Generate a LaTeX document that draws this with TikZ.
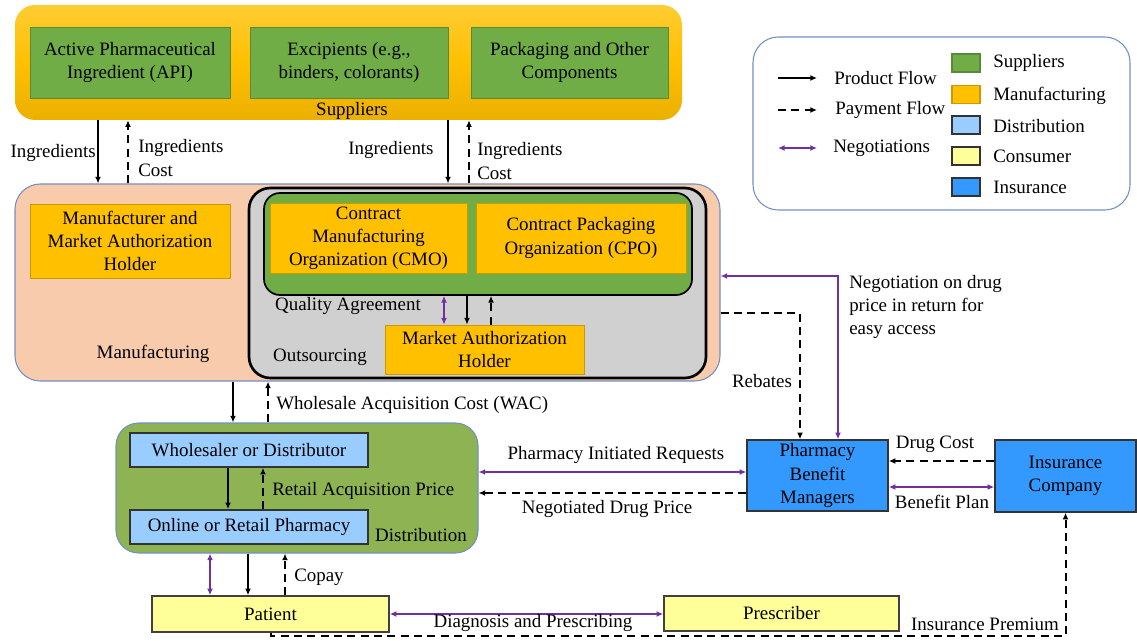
\documentclass[tikz,border=0pt]{standalone}
\usepackage{fontspec}
\setmainfont{Liberation Serif}
\usetikzlibrary{arrows.meta}
\newdimen\px
\px=0.75pt
\definecolor{supgreen}{HTML}{70AD47}
\definecolor{mfgorange}{HTML}{FFC000}
\definecolor{suptop}{HTML}{FFCC33}
\definecolor{supbot}{HTML}{EBB000}
\definecolor{peach}{HTML}{F8CBAD}
\definecolor{outgray}{HTML}{D0D0D0}
\definecolor{distgreen}{HTML}{8DB353}
\definecolor{distblue}{HTML}{99CCFF}
\definecolor{consyellow}{HTML}{FFFF99}
\definecolor{insblue}{HTML}{3399FF}
\definecolor{negpurple}{HTML}{7030A0}
\definecolor{frameblue}{HTML}{7290C4}

\tikzset{
  every node/.style={font=\fontsize{14.2}{17.3}\selectfont},
  sz/.style 2 args={minimum width=#1\px, minimum height=#2\px},
  box/.style={draw, rectangle, inner sep=0pt, align=center},
  lbl/.style={inner sep=0pt},
  supbox/.style={box, fill=supgreen, draw=supgreen!80!black, line width=0.6pt},
  mfgbox/.style={box, fill=mfgorange, draw=mfgorange!80!black, line width=0.6pt},
  distbox/.style={box, fill=distblue, draw=black!80, line width=1.2pt},
  consbox/.style={box, fill=consyellow, draw=black!75, line width=1.1pt},
  insbox/.style={box, fill=insblue, draw=black!80, line width=1.1pt},
  swatch/.style={box, sz={28}{18}, line width=0.9pt},
  tip/.tip={Latex[length=5pt,width=4.4pt]},
  prod/.style={line width=1.5pt, -tip},
  pay/.style={line width=1.5pt, dash pattern=on 6pt off 4pt, -tip},
  neg/.style={line width=1.5pt, draw=negpurple, tip-tip},
}

\begin{document}
\begin{tikzpicture}[x=0.75pt,y=-0.75pt]
\useasboundingbox (0,0) rectangle (1137,641);

% ---- Suppliers
\node[box, draw=none, sz={667}{115}, rounded corners=15pt,
      top color=suptop, bottom color=supbot, middle color=mfgorange] (sup) at (348.5,62.5) {};
\node[supbox, sz={200}{71}] (api) at (130,62.5) {Active Pharmaceutical\\Ingredient (API)};
\node[supbox, sz={198}{71}] (exc) at (349,62.5) {Excipients (e.g.,\\binders, colorants)};
\node[supbox, sz={197}{71}] (pkg) at (569.5,62.5) {Packaging and Other\\Components};
\node[lbl] (suplbl) at (352,111) {Suppliers};

% ---- Manufacturing
\node[box, sz={705}{197}, rounded corners=19pt, fill=peach, draw=frameblue, line width=0.8pt] (manu) at (367.5,282.5) {};
\node[mfgbox, sz={200}{74}] (mah1) at (130,241) {Manufacturer and\\Market Authorization\\Holder};
\node[lbl] (manulbl) at (153,354) {Manufacturing};
\node[box, sz={457}{190}, rounded corners=16pt, fill=outgray, line width=2pt] (outs) at (477.5,283) {};
\node[box, sz={428}{102}, rounded corners=12pt, fill=supgreen, line width=1.3pt] (cgrp) at (478,244) {};
\node[mfgbox, sz={197}{70}] (cmo) at (368.5,238) {Contract\\Manufacturing\\Organization (CMO)};
\node[mfgbox, sz={210}{70}] (cpo) at (581,238) {Contract Packaging\\Organization (CPO)};
\node[lbl] (qalbl) at (348,306) {Quality Agreement};
\node[mfgbox, sz={199}{49}] (mah2) at (484.5,349.5) {Market Authorization\\Holder};
\node[lbl] (outlbl) at (320,357) {Outsourcing};

% ---- Distribution
\node[box, sz={362}{130}, rounded corners=17pt, fill=distgreen, draw=frameblue, line width=0.8pt] (dist) at (297,488) {};
\node[distbox, sz={238}{34}] (whole) at (249,450) {Wholesaler or Distributor};
\node[distbox, sz={238}{34}] (pharm) at (249,527) {Online or Retail Pharmacy};
\node[lbl] (distlbl) at (421,535) {Distribution};

% ---- Consumer
\node[consbox, sz={237}{36}] (patient) at (270.5,614) {Patient};
\node[consbox, sz={235}{35}] (presc) at (781.5,613.5) {Prescriber};

% ---- Insurance
\node[insbox, sz={141}{71}] (pbm) at (817.5,475.5) {Pharmacy\\Benefit\\Managers};
\node[insbox, sz={141}{72}] (ins) at (1065.5,476) {Insurance\\Company};

% ---- Legend
\node[box, sz={377}{173}, rounded corners=19pt, draw=frameblue, line width=0.8pt, fill=white] (legend) at (941.5,123.5) {};
\coordinate (lpa) at (778,78);  \coordinate (lpb) at (817,78);
\coordinate (lya) at (778,110); \coordinate (lyb) at (817,110);
\coordinate (lna) at (778,148); \coordinate (lnb) at (817,148);
\draw[prod] (lpa) -- (lpb);
\draw[pay] (lya) -- (lyb);
\draw[neg] (lna) -- (lnb);
\node[lbl, anchor=west] (lgp) at (834,78) {Product Flow};
\node[lbl, anchor=west] (lgy) at (835,110) {Payment Flow};
\node[lbl, anchor=west] (lgn) at (833,148) {Negotiations};
\node[swatch, fill=supgreen, draw=supgreen!80!black] (s1) at (966,63) {};
\node[swatch, fill=mfgorange, draw=mfgorange!80!black] (s2) at (966,94.5) {};
\node[swatch, fill=distblue, draw=black!80] (s3) at (966,125) {};
\node[swatch, fill=consyellow, draw=black!80] (s4) at (966,156) {};
\node[swatch, fill=insblue, draw=black!80] (s5) at (966,187) {};
\node[lbl, anchor=west] (t1) at (993,63) {Suppliers};
\node[lbl, anchor=west] (t2) at (993,96) {Manufacturing};
\node[lbl, anchor=west] (t3) at (993,126) {Distribution};
\node[lbl, anchor=west] (t4) at (993,156) {Consumer};
\node[lbl, anchor=west] (t5) at (993,187) {Insurance};

% ---- Suppliers <-> Manufacturing
\draw[prod] (sup.south -| 98,0) -- (manu.north -| 98,0);
\draw[pay] (manu.north -| 128,0) -- (sup.south -| 128,0);
\node[lbl, anchor=east] (ingl1) at (96,153) {Ingredients};
\node[lbl, anchor=west, align=left] (ingc1) at (138,158) {Ingredients\\Cost};
\draw[prod] (sup.south -| 448,0) -- (manu.north -| 448,0);
\draw[pay] (manu.north -| 469,0) -- (sup.south -| 469,0);
\node[lbl] (ingl2) at (391,150) {Ingredients};
\node[lbl, anchor=west, align=left] (ingc2) at (477,161) {Ingredients\\Cost};

% ---- Contract group <-> MAH
\draw[neg] (cgrp.south -| 444,0) -- (mah2.north -| 444,0);
\draw[prod] (cgrp.south -| 467,0) -- (mah2.north -| 467,0);
\draw[pay] (mah2.north -| 491,0) -- (cgrp.south -| 491,0);

% ---- Manufacturing <-> Distribution
\draw[prod] (manu.south -| 233,0) -- (dist.north -| 233,0);
\draw[pay] (dist.north -| 268,0) -- (manu.south -| 268,0);
\node[lbl, anchor=west] (wac) at (276,405) {Wholesale Acquisition Cost (WAC)};

\draw[prod] (whole.south -| 228,0) -- (pharm.north -| 228,0);
\draw[pay] (pharm.north -| 263,0) -- (whole.south -| 263,0);
\node[lbl, anchor=west] (rap) at (272,491) {Retail Acquisition Price};

% ---- Distribution <-> Patient
\draw[neg] (dist.south -| 210,0) -- (patient.north -| 210,0);
\draw[prod] (dist.south -| 248,0) -- (patient.north -| 248,0);
\draw[pay] (patient.north -| 285,0) -- (dist.south -| 285,0);
\node[lbl, anchor=west] (copay) at (294,577) {Copay};

% ---- Patient <-> Prescriber, premium
\draw[neg] (patient.east) -- (patient.east -| presc.west);
\node[lbl] (diag) at (533,623) {Diagnosis and Prescribing};
\draw[pay] (patient.south) -- (patient.south |- 0,636) -| (ins.south);
\node[lbl] (prem) at (985,624) {Insurance Premium};

% ---- PBM links
\draw[neg] (dist.east |- 0,472) -- (pbm.west |- 0,472);
\node[lbl] (pir) at (616,455) {Pharmacy Initiated Requests};
\draw[pay] (pbm.west |- 0,493) -- (dist.east |- 0,493);
\node[lbl] (ndp) at (607,509) {Negotiated Drug Price};
\draw[pay] (ins.west |- 0,461) -- (pbm.east |- 0,461);
\node[lbl] (dc) at (935,444) {Drug Cost};
\draw[neg] (pbm.east |- 0,487) -- (ins.west |- 0,487);
\node[lbl] (bp) at (942,502) {Benefit Plan};

\draw[pay] (manu.east |- 0,313) -| (pbm.north -| 800,0);
\node[lbl] (reb) at (762,381) {Rebates};
\draw[neg] (pbm.north -| 838,0) |- (manu.east |- 0,276);
\node[lbl, anchor=west, align=left] (negl) at (849,307) {Negotiation on drug\\price in return for\\easy access};
\end{tikzpicture}
\end{document}
